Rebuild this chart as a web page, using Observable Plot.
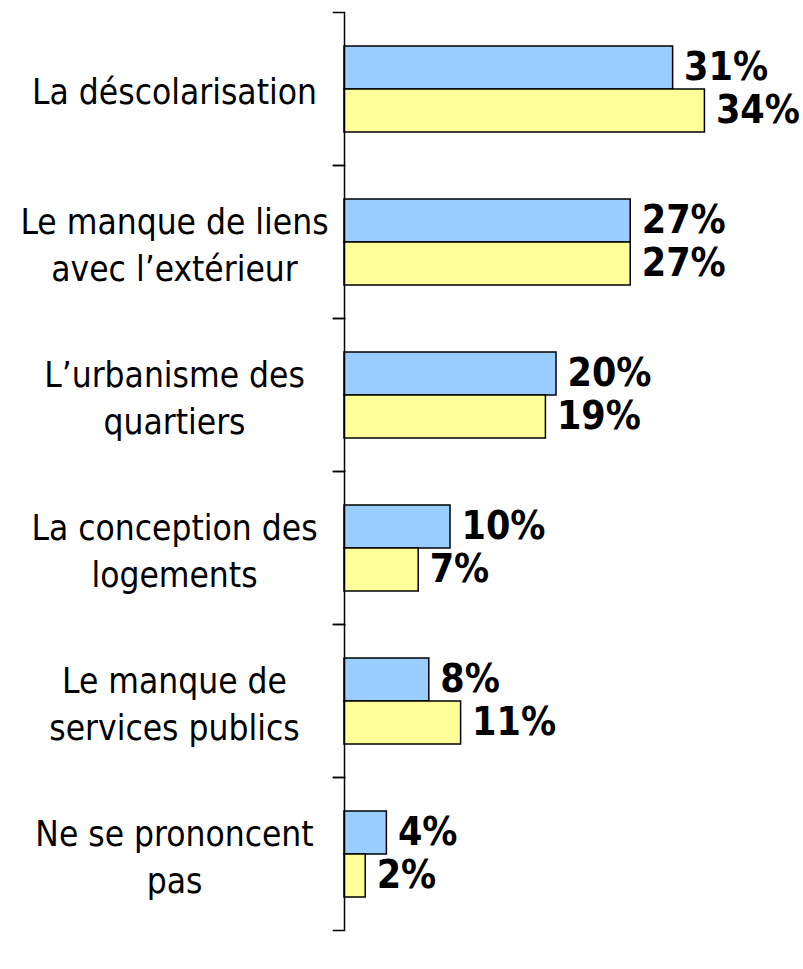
<!DOCTYPE html>
<html>
<head>
<meta charset="utf-8">
<script src="https://cdn.jsdelivr.net/npm/d3@7"></script>
<script src="https://cdn.jsdelivr.net/npm/@observablehq/plot@0.6"></script>
<style>
  html, body { margin: 0; padding: 0; background: #fff; }
</style>
</head>
<body>
<div id="chart"></div>
<script>
const categories = [
  "La déscolarisation",
  "Le manque de liens\navec l’extérieur",
  "L’urbanisme des\nquartiers",
  "La conception des\nlogements",
  "Le manque de\nservices publics",
  "Ne se prononcent\npas"
];
const seriesNames = ["Série 1", "Série 2"];
const series1 = [31, 27, 20, 10, 8, 4];
const series2 = [34, 27, 19, 7, 11, 2];
const colors = ["#99CCFF", "#FFFF99"];

const data = [];
categories.forEach((c, i) => {
  data.push({cat: c, serie: seriesNames[0], value: series1[i]});
  data.push({cat: c, serie: seriesNames[1], value: series2[i]});
});

const font = "'DejaVu Sans Condensed', 'DejaVu Sans', sans-serif";

const chart = Plot.plot({
  width: 803,
  height: 969,
  marginTop: 12,
  marginBottom: 39,
  marginLeft: 344,
  marginRight: 0,
  style: {fontFamily: font, color: "#000", background: "#fff"},
  x: {domain: [0, 43.3], axis: null},
  y: {domain: seriesNames, paddingInner: 0, paddingOuter: 0.74, axis: null},
  fy: {domain: categories, padding: 0, label: null},
  color: {domain: seriesNames, range: colors},
  marks: [
    Plot.barX(data, {x: "value", y: "serie", fy: "cat", fill: "serie", stroke: "#000", strokeWidth: 1.5}),
    Plot.text(data, {x: "value", y: "serie", fy: "cat", text: d => d.value + "%", textAnchor: "start", dx: 11, fontSize: 39, fontWeight: "bold", fill: "#000"}),
    Plot.ruleX([0], {stroke: "#000", strokeWidth: 1.5}),
    Plot.frame({anchor: "top", insetLeft: -11, insetRight: 459, stroke: "#000", strokeWidth: 1.5}),
    Plot.frame({anchor: "bottom", insetLeft: -11, insetRight: 459, stroke: "#000", strokeWidth: 1.5}),
    Plot.axisFy({anchor: "left", tickSize: 0, tickPadding: 170, textAnchor: "middle", fontSize: 35, lineHeight: 1.35, label: null, fill: "#000"})
  ]
});
document.getElementById("chart").appendChild(chart);
</script>
</body>
</html>
